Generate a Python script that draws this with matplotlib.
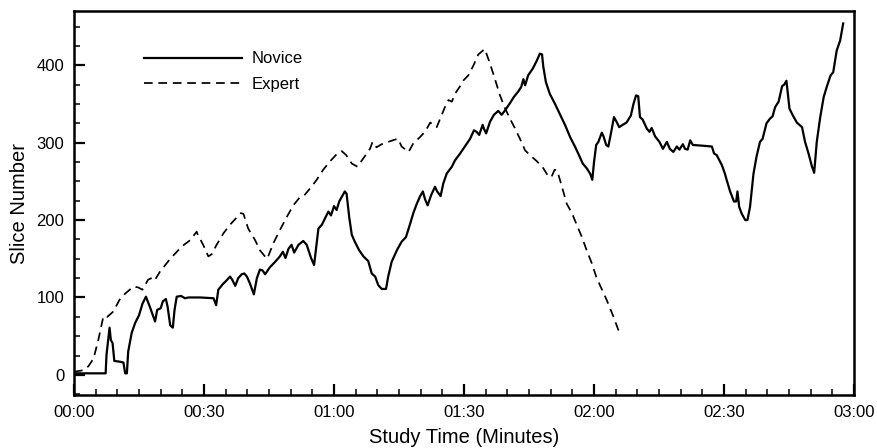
import matplotlib
matplotlib.use('Agg')
import matplotlib.pyplot as plt
import matplotlib.ticker as ticker

plt.rcParams['font.family'] = ['Liberation Sans', 'DejaVu Sans']

# study time in seconds, slice number
novice_t = [0, 7.3, 7.5, 8.2, 8.5, 8.9, 9.3, 10.6, 11.4, 11.8,
            12.2, 12.5, 13.3, 14.1, 15.0, 15.8, 16.6, 17.5, 18.7, 19.2,
            20.0, 20.5, 21.2, 21.6, 22.2, 22.8, 23.2, 23.7, 24.7, 25.6,
            26.4, 29.1, 32.2, 32.8, 33.3, 34.3, 35.2, 36.0, 36.5, 37.2,
            37.9, 38.7, 39.3, 39.9, 40.6, 41.5, 42.2, 42.9, 43.5, 44.1,
            45.2, 46.4, 47.5, 48.2, 48.8, 49.5, 50.2, 50.8, 51.8, 52.9,
            53.7, 54.7, 55.4, 55.8, 56.4, 57.2, 57.9, 58.7, 59.3, 60.0,
            60.6, 61.2, 62.5, 62.9, 63.5, 64.1, 64.8, 65.8, 66.8, 67.9,
            68.7, 69.5, 70.2, 71.0, 72.0, 72.5, 73.3, 74.5, 75.6, 76.6,
            77.5, 78.3, 79.1, 79.8, 80.5, 81.0, 81.6, 82.4, 83.3, 83.8,
            84.6, 85.2, 86.0, 87.2, 87.9, 89.1, 90.2, 91.4, 92.3, 92.9,
            93.5, 94.3, 94.6, 95.1, 96.0, 96.9, 97.9, 98.7, 99.5, 100.6,
            101.5, 102.5, 103.2, 103.7, 104.1, 104.8, 105.9, 106.8, 107.5, 108.0,
            108.3, 108.9, 109.8, 111.0, 112.2, 113.3, 114.5, 115.6, 116.6, 117.4,
            118.3, 119.1, 119.6, 120.0, 120.5, 121.0, 121.8, 122.2, 122.8, 123.3,
            123.9, 124.6, 125.2, 125.8, 126.6, 127.5, 128.5, 129.1, 129.7, 130.2,
            130.6, 131.2, 132.2, 132.8, 133.3, 134.1, 135.1, 135.9, 136.8, 137.5,
            138.3, 139.1, 139.7, 140.5, 141.0, 141.6, 142.2, 142.8, 145.2, 147.2,
            147.7, 148.3, 149.5, 150.2, 150.6, 151.4, 152.3, 152.8, 153.1, 153.5,
            154.1, 154.9, 155.4, 156.0, 156.8, 157.5, 158.3, 158.9, 159.8, 160.6,
            161.2, 161.8, 162.6, 163.4, 163.9, 164.4, 165.1, 165.9, 166.8, 168.0,
            168.7, 169.5, 170.3, 170.8, 171.4, 172.2, 173.0, 173.7, 174.6, 175.2,
            176.0, 176.8, 177.5]
novice_slice = [2, 2, 26, 61, 45, 41, 18, 17, 16, 2,
                2, 30, 54, 67, 77, 92, 101, 88, 69, 84,
                86, 95, 98, 88, 64, 61, 84, 101, 102, 99,
                100, 100, 99, 90, 110, 117, 122, 127, 123, 115,
                125, 130, 131, 127, 118, 104, 125, 136, 135, 130,
                139, 146, 153, 159, 151, 163, 168, 158, 168, 173,
                168, 151, 142, 161, 189, 194, 202, 211, 206, 218,
                213, 224, 237, 234, 204, 181, 172, 161, 153, 147,
                131, 127, 116, 111, 111, 127, 146, 161, 172, 178,
                194, 209, 221, 230, 237, 227, 219, 232, 243, 237,
                231, 247, 260, 269, 277, 286, 295, 305, 316, 314,
                310, 323, 318, 312, 327, 336, 341, 336, 342, 351,
                359, 366, 372, 382, 374, 387, 396, 406, 415, 414,
                398, 378, 363, 350, 336, 323, 307, 295, 283, 273,
                267, 260, 252, 275, 297, 301, 313, 308, 297, 295,
                312, 333, 327, 320, 323, 326, 335, 350, 361, 360,
                333, 330, 318, 314, 319, 308, 301, 292, 301, 292,
                288, 295, 291, 298, 292, 291, 303, 297, 296, 295,
                286, 284, 271, 260, 252, 237, 224, 224, 237, 217,
                208, 200, 200, 217, 260, 282, 301, 305, 325, 331,
                334, 346, 353, 373, 375, 380, 344, 335, 326, 320,
                301, 286, 269, 261, 301, 333, 359, 372, 387, 391,
                419, 432, 454]

expert_t = [0, 2.1, 3.3, 4.5, 5.6, 6.8, 7.7, 9.1, 10.5, 11.8,
            13.7, 14.8, 15.8, 17.1, 18.3, 18.7, 19.8, 22.2, 24.9, 26.8,
            28.3, 28.5, 29.8, 31.0, 31.8, 32.9, 34.5, 36.0, 37.5, 38.5,
            39.1, 40.2, 41.8, 42.9, 44.5, 44.8, 46.0, 47.5, 49.1, 50.6,
            52.2, 53.3, 54.5, 56.0, 57.5, 59.1, 60.6, 61.8, 62.8, 64.1,
            65.4, 66.8, 68.3, 68.9, 69.8, 71.0, 72.5, 74.1, 74.8, 75.6,
            77.2, 78.3, 79.8, 81.0, 82.2, 82.9, 83.7, 84.5, 85.6, 86.4,
            87.2, 87.9, 89.1, 89.8, 91.0, 92.2, 93.3, 94.8, 96.0, 97.2,
            98.3, 99.5, 100.6, 101.8, 102.9, 104.1, 105.2, 106.8, 108.3, 109.5,
            110.2, 110.9, 111.5, 112.6, 113.7, 114.9, 116.0, 117.2, 118.3, 119.5,
            120.5, 121.2, 122.9, 124.5, 126.0]
expert_slice = [4, 6, 11, 21, 45, 76, 75, 82, 97, 105,
                114, 113, 110, 123, 126, 123, 133, 150, 166, 174,
                185, 182, 168, 153, 156, 168, 183, 194, 203, 209,
                208, 189, 174, 161, 150, 153, 170, 187, 204, 219,
                230, 233, 241, 252, 265, 276, 285, 289, 284, 273,
                269, 280, 292, 301, 294, 298, 301, 304, 305, 295,
                288, 299, 307, 314, 326, 323, 320, 331, 346, 355,
                353, 363, 373, 380, 387, 400, 414, 421, 402, 381,
                361, 344, 331, 318, 305, 290, 284, 276, 267, 256,
                256, 265, 264, 243, 221, 209, 194, 178, 161, 144,
                127, 118, 97, 75, 52]


def mmss(x, pos):
    return '{0:02d}:{1:02d}'.format(int(x) // 60, int(x) % 60)


fig = plt.figure(figsize=(8.78, 4.48), dpi=100)
ax = fig.add_axes([0.0843, 0.1183, 0.8884, 0.857])

ax.plot(novice_t, novice_slice, 'k-', linewidth=1.6, label='Novice')
ax.plot(expert_t, expert_slice, 'k', linestyle=(0, (5, 3.3)), linewidth=1.25, label='Expert')

ax.set_xlim(0, 180)
ax.set_ylim(-26, 470)

ax.xaxis.set_major_locator(ticker.MultipleLocator(30))
ax.xaxis.set_minor_locator(ticker.MultipleLocator(5))
ax.xaxis.set_major_formatter(ticker.FuncFormatter(mmss))
ax.yaxis.set_major_locator(ticker.MultipleLocator(100))
ax.yaxis.set_minor_locator(ticker.MultipleLocator(25))

ax.tick_params(which='both', direction='in', top=False, right=False, labelsize=12)
ax.tick_params(which='major', length=8, width=1.6, pad=7)
ax.tick_params(which='minor', length=4.5, width=1.1)
for s in ax.spines.values():
    s.set_linewidth(1.8)

ax.set_xlabel('Study Time (Minutes)', fontsize=14.5, labelpad=6)
ax.set_ylabel('Slice Number', fontsize=14.5, labelpad=5)

ax.legend(loc='upper left', bbox_to_anchor=(0.0897, 0.895), frameon=False,
          handlelength=5.9, handletextpad=0.55, borderpad=0, borderaxespad=0,
          labelspacing=0.62, fontsize=12)

fig.savefig('out.png', dpi=100)
